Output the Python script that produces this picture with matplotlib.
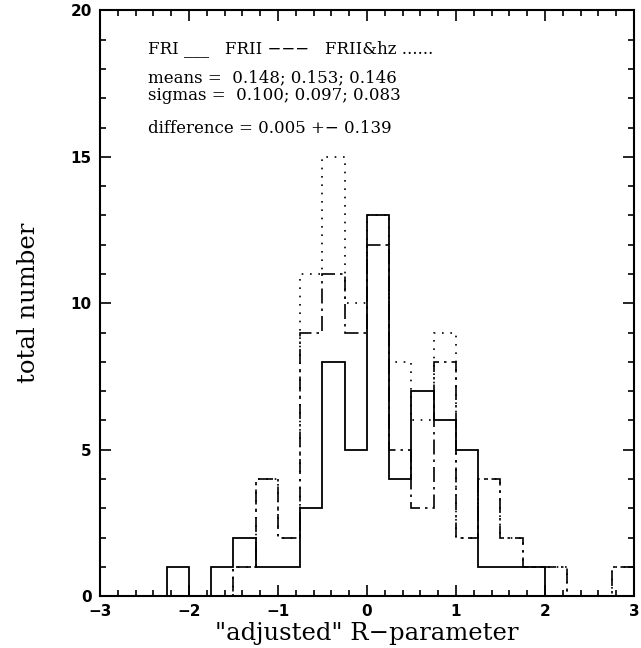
import numpy as np
import matplotlib
matplotlib.use('Agg')
import matplotlib.pyplot as plt
from matplotlib.ticker import MultipleLocator

# bin edges: -3 .. 3 in steps of 0.25
edges = np.arange(-3.0, 3.001, 0.25)

fr1 = [0, 0, 0, 1, 0, 1, 2, 1, 1, 3, 8, 5,
       13, 4, 7, 6, 5, 1, 1, 1, 0, 0, 0, 0]
fr2 = [0, 0, 0, 0, 0, 0, 1, 4, 2, 9, 11, 9,
       12, 5, 3, 8, 2, 4, 2, 1, 1, 0, 0, 1]
fr2hz = [0, 0, 0, 0, 0, 0, 1, 4, 2, 11, 15, 10,
         13, 8, 6, 9, 2, 4, 2, 1, 1, 0, 0, 1]

fig = plt.figure(figsize=(6.41, 6.48), dpi=100)
ax = fig.add_axes([0.156, 0.080, 0.833, 0.904])

ax.stairs(fr1, edges, color='black', lw=1.3)
ax.stairs(fr2, edges, color='black', lw=1.2, linestyle=(0, (9, 3, 1.5, 3)))
ax.stairs(fr2hz, edges, color='black', lw=1.2, linestyle=(0, (1, 4)))

ax.set_xlim(-3, 3)
ax.set_ylim(0, 20)
ax.xaxis.set_major_locator(MultipleLocator(1))
ax.xaxis.set_minor_locator(MultipleLocator(0.2))
ax.yaxis.set_major_locator(MultipleLocator(5))
ax.yaxis.set_minor_locator(MultipleLocator(1))
ax.tick_params(which='both', direction='in', top=True, right=True, width=1.2)
ax.tick_params(which='major', length=8, labelsize=11, pad=6)
ax.tick_params(which='minor', length=4)
for lab in ax.get_xticklabels() + ax.get_yticklabels():
    lab.set_fontweight('bold')
for sp in ax.spines.values():
    sp.set_linewidth(1.5)

serif = 'DejaVu Serif'
ax.set_xlabel('"adjusted" R\u2212parameter', fontsize=17.5, family=serif, labelpad=2)
ax.set_ylabel('total number', fontsize=17.5, family=serif, labelpad=22)

txt = dict(fontsize=12, family=serif, va='center')
ax.text(-2.46, 18.7, 'FRI ___   FRII \u2212\u2212\u2212   FRII&hz ......', **txt)
ax.text(-2.46, 17.7, 'means =  0.148; 0.153; 0.146', **txt)
ax.text(-2.46, 17.08, 'sigmas =  0.100; 0.097; 0.083', **txt)
ax.text(-2.46, 15.97, 'difference = 0.005 +\u2212 0.139', **txt)

fig.savefig('out.png', dpi=100)
